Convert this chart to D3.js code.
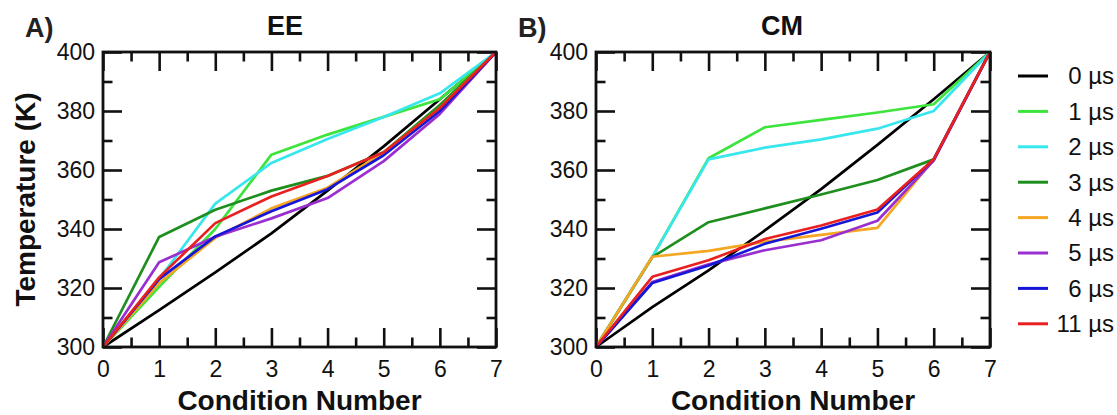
<!DOCTYPE html>
<html>
<head>
    <meta charset='utf-8'>
    <title>Temperature ladders EE / CM</title>
    <style>
        body { margin: 0; background: #fff; }
        text { font-family: "Liberation Sans", Arial, sans-serif; }
    </style>
</head>
<body>
<svg width="1117" height="415"></svg>
<script src="https://d3js.org/d3.v7.min.js"></script>
<script>
    // condition index on x, temperature (K) on y
    const conditions = [0, 1, 2, 3, 4, 5, 6, 7]
    const seriesLabels = ["0 µs", "1 µs", "2 µs", "3 µs", "4 µs", "5 µs", "6 µs", "11 µs"]
    const seriesColors = ["#000000", "#3ce43c", "#38e6ee", "#1e8f1e", "#f5a623", "#9a2fd0", "#1616d8", "#e8201f"]
    const yTicks = [300, 320, 340, 360, 380, 400]

    // EE panel, one row per series (same order as seriesLabels)
    const eeTemps = [
        [300, 312.5, 325.3, 338.5, 353, 368, 384, 400],
        [300, 320.4, 340, 365.2, 372, 378, 384, 400],
        [300, 323, 348.6, 362.4, 370.5, 378, 386, 400],
        [300, 337.3, 346.5, 353, 358, 366, 382, 400],
        [300, 321.7, 337, 347, 354, 366, 381, 400],
        [300, 328.7, 337.4, 343.6, 350.5, 363, 379, 400],
        [300, 323, 337.5, 346, 353.5, 365, 380, 400],
        [300, 323.6, 342, 351, 358, 366, 381, 400]
    ]

    // CM panel
    const cmTemps = [
        [300, 313.5, 326, 339.5, 353.5, 368.5, 384, 400],
        [300, 330.5, 364, 374.5, 377, 379.5, 382.3, 400],
        [300, 330.5, 363.6, 367.6, 370.4, 374, 380, 400],
        [300, 330.5, 342.3, 347, 351.7, 356.6, 363.6, 400],
        [300, 330.6, 332.6, 335.7, 338, 340.4, 363.6, 400],
        [300, 322, 328, 332.8, 336.2, 342.8, 363.2, 400],
        [300, 321.7, 327.6, 335, 340.1, 345.6, 363.6, 400],
        [300, 323.8, 329.4, 336.6, 341.2, 346.6, 363.6, 400]
    ]

    const svg = d3.select("svg")
    const plotTop = 52, plotBottom = 347

    const drawPanel = (left, right, temps, title, tag, titleX, tagX, yTitle) => {
        const x = d3.scaleLinear().domain([0, 7]).range([left, right])
        const y = d3.scaleLinear().domain([300, 400]).range([plotBottom, plotTop])
        const g = svg.append("g")

        const styleAxis = a => {
            a.select(".domain").remove()
            a.selectAll(".tick line").attr("stroke", "#111").attr("stroke-width", 2.6)
            a.selectAll(".tick text")
                .attr("font-family", "'Liberation Sans', Arial, sans-serif")
                .attr("font-size", 23)
                .attr("fill", "#111")
        }

        const halves = d3.range(0.5, 7, 1)
        const tens = d3.range(310, 400, 20)

        g.append("g").attr("transform", `translate(0,${plotBottom})`)
            .call(d3.axisBottom(x).tickValues(conditions).tickSize(-19).tickPadding(14).tickFormat(d3.format("d")))
            .call(styleAxis)
        g.append("g").attr("transform", `translate(0,${plotBottom})`)
            .call(d3.axisBottom(x).tickValues(halves).tickSize(-9.5).tickFormat(""))
            .call(styleAxis)
        g.append("g").attr("transform", `translate(0,${plotTop})`)
            .call(d3.axisTop(x).tickValues(conditions).tickSize(-19).tickFormat(""))
            .call(styleAxis)
        g.append("g").attr("transform", `translate(0,${plotTop})`)
            .call(d3.axisTop(x).tickValues(halves).tickSize(-9.5).tickFormat(""))
            .call(styleAxis)
        g.append("g").attr("transform", `translate(${left},0)`)
            .call(d3.axisLeft(y).tickValues(yTicks).tickSize(-19).tickPadding(8).tickFormat(d3.format("d")))
            .call(styleAxis)
        g.append("g").attr("transform", `translate(${left},0)`)
            .call(d3.axisLeft(y).tickValues(tens).tickSize(-9.5).tickFormat(""))
            .call(styleAxis)
        g.append("g").attr("transform", `translate(${right},0)`)
            .call(d3.axisRight(y).tickValues(yTicks).tickSize(-19).tickFormat(""))
            .call(styleAxis)
        g.append("g").attr("transform", `translate(${right},0)`)
            .call(d3.axisRight(y).tickValues(tens).tickSize(-9.5).tickFormat(""))
            .call(styleAxis)

        const line = d3.line()
            .x((d, i) => x(conditions[i]))
            .y(d => y(d))

        g.append("g")
            .attr("fill", "none")
            .attr("stroke-width", 2.7)
            .attr("stroke-linejoin", "round")
            .selectAll("path")
            .data(temps)
            .join("path")
            .attr("stroke", (d, i) => seriesColors[i])
            .attr("d", line)

        g.append("rect")
            .attr("x", left).attr("y", plotTop)
            .attr("width", right - left).attr("height", plotBottom - plotTop)
            .attr("fill", "none").attr("stroke", "#111").attr("stroke-width", 2.8)

        g.append("text")
            .attr("x", titleX).attr("y", 35)
            .attr("text-anchor", "middle")
            .attr("font-weight", "bold").attr("font-size", 27)
            .attr("fill", "#111")
            .text(title)

        g.append("text")
            .attr("x", tagX).attr("y", 37)
            .attr("font-weight", "bold").attr("font-size", 27)
            .attr("fill", "#222")
            .text(tag)

        g.append("text")
            .attr("x", (left + right) / 2).attr("y", 410)
            .attr("text-anchor", "middle")
            .attr("font-weight", "bold").attr("font-size", 28)
            .attr("fill", "#111")
            .text("Condition Number")

        if (yTitle) {
            g.append("text")
                .attr("transform", `translate(35,${(plotTop + plotBottom) / 2}) rotate(-90)`)
                .attr("text-anchor", "middle")
                .attr("font-weight", "bold").attr("font-size", 28)
                .attr("fill", "#111")
                .text(yTitle)
        }
    }

    drawPanel(103, 496, eeTemps, "EE", "A)", 285, 25, "Temperature (K)")
    drawPanel(596, 990, cmTemps, "CM", "B)", 782, 518, null)

    // legend
    const legend = svg.append("g")
        .selectAll("g")
        .data(seriesLabels)
        .join("g")
        .attr("transform", (d, i) => `translate(0,${76 + i * 35.4})`)

    legend.append("line")
        .attr("x1", 1018).attr("x2", 1048)
        .attr("stroke", (d, i) => seriesColors[i])
        .attr("stroke-width", 3)

    legend.append("text")
        .attr("x", 1114)
        .attr("dy", "0.35em")
        .attr("text-anchor", "end")
        .attr("font-size", 24)
        .attr("fill", "#111")
        .text(d => d)
</script>
</body>
</html>
